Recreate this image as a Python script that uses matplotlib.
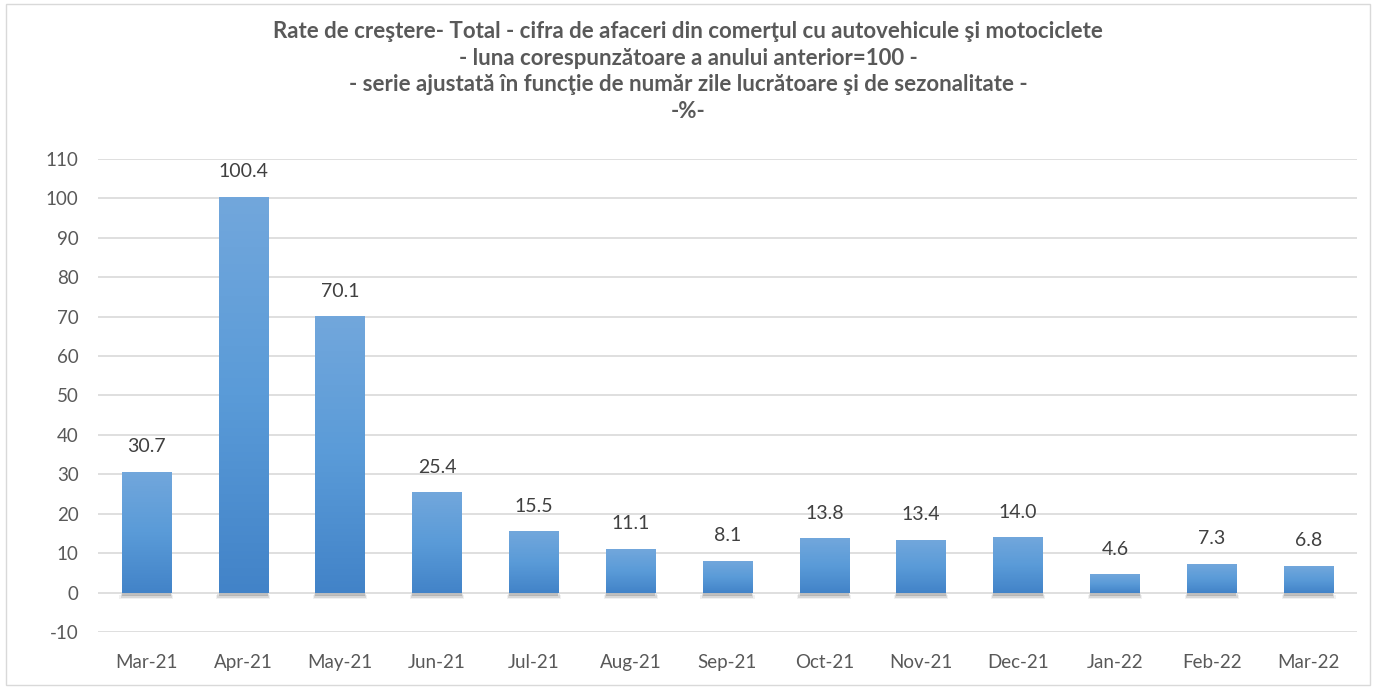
import matplotlib
matplotlib.use("Agg")
import matplotlib.pyplot as plt
import numpy as np
from matplotlib.patches import Rectangle

# Data
months = ["Mar-21", "Apr-21", "May-21", "Jun-21", "Jul-21", "Aug-21", "Sep-21",
          "Oct-21", "Nov-21", "Dec-21", "Jan-22", "Feb-22", "Mar-22"]
values = [30.7, 100.4, 70.1, 25.4, 15.5, 11.1, 8.1, 13.8, 13.4, 14.0, 4.6, 7.3, 6.8]
yticks = list(range(-10, 111, 10))

title = ("Rate de creştere- Total - cifra de afaceri din comerţul cu autovehicule şi motociclete\n"
         "- luna corespunzătoare a anului anterior=100 -\n"
         "- serie ajustată în funcţie de număr zile lucrătoare şi de sezonalitate -\n"
         "-%-")

plt.rcParams["font.family"] = ["Lato", "DejaVu Sans"]
plt.rcParams["axes.unicode_minus"] = False
text_col = "#595959"

fig = plt.figure(figsize=(13.76, 6.88), dpi=100)
ax = fig.add_axes([0.0712, 0.0814, 0.915, 0.6876])

bar_w = 0.51
x = np.arange(len(months))
bars = ax.bar(x, values, width=bar_w, color="none", zorder=3)

# vertical gradient fill (light top -> darker bottom) plus soft shadow
grad = np.linspace(0, 1, 256).reshape(-1, 1)
cmap = matplotlib.colors.LinearSegmentedColormap.from_list(
    "g", ["#4283c8", "#5a9bd8", "#72a7dc"])
for b in bars:
    bx, by = b.get_x(), b.get_y()
    bw, bh = b.get_width(), b.get_height()
    for i, a in enumerate([0.22, 0.14, 0.07]):
        ax.add_patch(Rectangle((bx - 0.012 * i, by - 0.9 - 0.35 * i), bw + 0.024 * i, 1.0,
                               color="#404040", alpha=a, lw=0, zorder=2))
    im = ax.imshow(grad, cmap=cmap, aspect="auto", origin="lower",
                   extent=(bx, bx + bw, by, by + bh), zorder=3)
    im.set_clip_path(b)

for xi, v in zip(x, values):
    ax.text(xi, v + 4.2, f"{v:.1f}", ha="center", va="bottom",
            fontsize=14, color="#404040", zorder=4)

ax.set_xlim(-0.5, len(months) - 0.5)
ax.set_ylim(-10, 110)
ax.set_yticks(yticks)
ax.set_xticks(x)
ax.set_xticklabels(months)
ax.tick_params(axis="both", length=0, labelsize=13.5, colors=text_col)
ax.tick_params(axis="x", pad=16)
ax.tick_params(axis="y", pad=14)
ax.grid(axis="y", color="#d9d9d9", lw=1.2, zorder=0)
for s in ax.spines.values():
    s.set_visible(False)

fig.text(0.5, 0.969, title, ha="center", va="top", fontsize=16, fontweight="bold",
         color=text_col, linespacing=1.32)

# chart border
fig.patches.append(Rectangle((0.004, 0.004), 0.992, 0.99, transform=fig.transFigure,
                             fill=False, edgecolor="#d9d9d9", lw=1))

fig.savefig("out.png", dpi=100)
